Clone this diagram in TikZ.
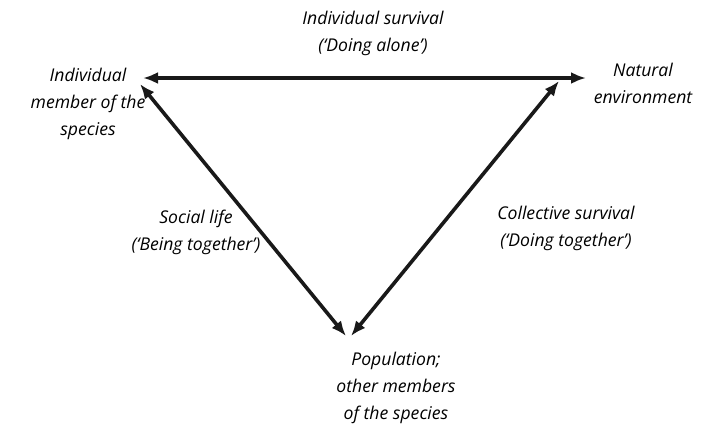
\documentclass[tikz,border=0pt]{standalone}
\usepackage{fontspec}
\setmainfont{Open Sans}
\usetikzlibrary{arrows.meta, positioning}

\begin{document}
\begin{tikzpicture}[
    x=0.5pt, y=-0.5pt,
    font=\itshape\fontsize{8.8}{13.5}\selectfont,
    % Text blocks and double headed arrows
    lbl/.style={align=center, inner sep=0pt},
    dblarr/.style={line width=1.8pt, draw=black!90, {Latex[length=7.5pt,width=6pt]}-{Latex[length=7.5pt,width=6pt]}}
]
\useasboundingbox (0,0) rectangle (722,434);

% ===============================
% Corners of the triangle
% ===============================
\node[lbl] (ind) at (88,104) {Individual\\member of the\\species};
\node[lbl] (nat) at (643,83) {Natural\\environment};
\node[lbl] (pop) at (396,388) {Population;\\other members\\of the species};

% Arrow ends
\coordinate (indT) at (143,78);
\coordinate (natT) at (586,78);
\coordinate (indD) at (140,84);
\coordinate (natD) at (559,81);
\coordinate (popL) at (346,336);
\coordinate (popR) at (351,336);

% ===============================
% Sides
% ===============================
\draw[dblarr] (indT) -- (natT);
\draw[dblarr] (indD) -- (popL);
\draw[dblarr] (popR) -- (natD);

% Labels
\node[lbl] (alone) at (373,33) {Individual survival\\(`Doing alone')};
\node[lbl] (social) at (196,232) {Social life\\(`Being together')};
\node[lbl] (collect) at (566,228) {Collective survival\\(`Doing together')};

\end{tikzpicture}
\end{document}
